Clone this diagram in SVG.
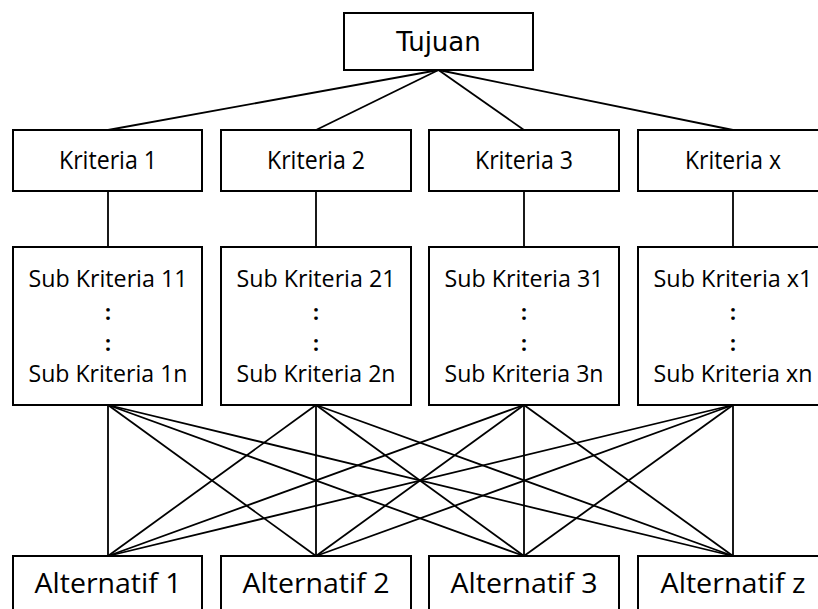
<svg xmlns="http://www.w3.org/2000/svg" width="818" height="609" viewBox="0 0 818 609">
<style>
rect{fill:#fff;stroke:#000;stroke-width:2}
line{stroke:#000;stroke-width:1.8}
text{font-family:"Open Sans","Liberation Sans",sans-serif;fill:#000;text-anchor:middle}
.t{font-family:"DejaVu Sans",sans-serif;font-size:26px}
.k{font-size:25px}
.s{font-size:23px}
.c{font-size:21px;font-weight:bold}
.a{font-size:27px}
</style>
<rect x="0" y="0" width="818" height="609" style="stroke:none"/>
<g id="connectors">
<line x1="438.5" y1="70" x2="108" y2="130"/>
<line x1="438.5" y1="70" x2="316" y2="130"/>
<line x1="438.5" y1="70" x2="524" y2="130"/>
<line x1="438.5" y1="70" x2="733" y2="130"/>
<line x1="108" y1="191" x2="108" y2="247"/>
<line x1="316" y1="191" x2="316" y2="247"/>
<line x1="524" y1="191" x2="524" y2="247"/>
<line x1="733" y1="191" x2="733" y2="247"/>
<line x1="108" y1="405" x2="108" y2="556"/>
<line x1="108" y1="405" x2="316" y2="556"/>
<line x1="108" y1="405" x2="524" y2="556"/>
<line x1="108" y1="405" x2="733" y2="556"/>
<line x1="316" y1="405" x2="108" y2="556"/>
<line x1="316" y1="405" x2="316" y2="556"/>
<line x1="316" y1="405" x2="524" y2="556"/>
<line x1="316" y1="405" x2="733" y2="556"/>
<line x1="524" y1="405" x2="108" y2="556"/>
<line x1="524" y1="405" x2="316" y2="556"/>
<line x1="524" y1="405" x2="524" y2="556"/>
<line x1="524" y1="405" x2="733" y2="556"/>
<line x1="733" y1="405" x2="108" y2="556"/>
<line x1="733" y1="405" x2="316" y2="556"/>
<line x1="733" y1="405" x2="524" y2="556"/>
<line x1="733" y1="405" x2="733" y2="556"/>
</g>
<g id="tujuan"><rect x="344" y="13" width="189" height="57"/><text class="t" x="438.5" y="51">Tujuan</text></g>
<g id="kriteria1"><rect x="13" y="130" width="189" height="61"/><text class="k" x="108" y="169" textLength="98" lengthAdjust="spacingAndGlyphs">Kriteria 1</text></g>
<g id="kriteria2"><rect x="221" y="130" width="190" height="61"/><text class="k" x="316" y="169" textLength="98" lengthAdjust="spacingAndGlyphs">Kriteria 2</text></g>
<g id="kriteria3"><rect x="429" y="130" width="190" height="61"/><text class="k" x="524" y="169" textLength="98" lengthAdjust="spacingAndGlyphs">Kriteria 3</text></g>
<g id="kriteriax"><rect x="638" y="130" width="190" height="61"/><text class="k" x="733" y="169" textLength="96" lengthAdjust="spacingAndGlyphs">Kriteria x</text></g>
<g id="sub1"><rect x="13" y="247" width="189" height="158"/>
<text class="s" x="108" y="287" textLength="159" lengthAdjust="spacingAndGlyphs">Sub Kriteria 11</text>
<text class="c" x="108" y="320">:</text><text class="c" x="108" y="351">:</text>
<text class="s" x="108" y="382" textLength="159" lengthAdjust="spacingAndGlyphs">Sub Kriteria 1n</text></g>
<g id="sub2"><rect x="221" y="247" width="190" height="158"/>
<text class="s" x="316" y="287" textLength="159" lengthAdjust="spacingAndGlyphs">Sub Kriteria 21</text>
<text class="c" x="316" y="320">:</text><text class="c" x="316" y="351">:</text>
<text class="s" x="316" y="382" textLength="159" lengthAdjust="spacingAndGlyphs">Sub Kriteria 2n</text></g>
<g id="sub3"><rect x="429" y="247" width="190" height="158"/>
<text class="s" x="524" y="287" textLength="159" lengthAdjust="spacingAndGlyphs">Sub Kriteria 31</text>
<text class="c" x="524" y="320">:</text><text class="c" x="524" y="351">:</text>
<text class="s" x="524" y="382" textLength="159" lengthAdjust="spacingAndGlyphs">Sub Kriteria 3n</text></g>
<g id="subx"><rect x="638" y="247" width="190" height="158"/>
<text class="s" x="733" y="287" textLength="159" lengthAdjust="spacingAndGlyphs">Sub Kriteria x1</text>
<text class="c" x="733" y="320">:</text><text class="c" x="733" y="351">:</text>
<text class="s" x="733" y="382" textLength="159" lengthAdjust="spacingAndGlyphs">Sub Kriteria xn</text></g>
<g id="alt1"><rect x="13" y="556" width="189" height="70"/><text class="a" x="108" y="593" textLength="147" lengthAdjust="spacingAndGlyphs">Alternatif 1</text></g>
<g id="alt2"><rect x="221" y="556" width="190" height="70"/><text class="a" x="316" y="593" textLength="147" lengthAdjust="spacingAndGlyphs">Alternatif 2</text></g>
<g id="alt3"><rect x="429" y="556" width="190" height="70"/><text class="a" x="524" y="593" textLength="147" lengthAdjust="spacingAndGlyphs">Alternatif 3</text></g>
<g id="altz"><rect x="638" y="556" width="190" height="70"/><text class="a" x="733" y="593" textLength="145" lengthAdjust="spacingAndGlyphs">Alternatif z</text></g>
</svg>
